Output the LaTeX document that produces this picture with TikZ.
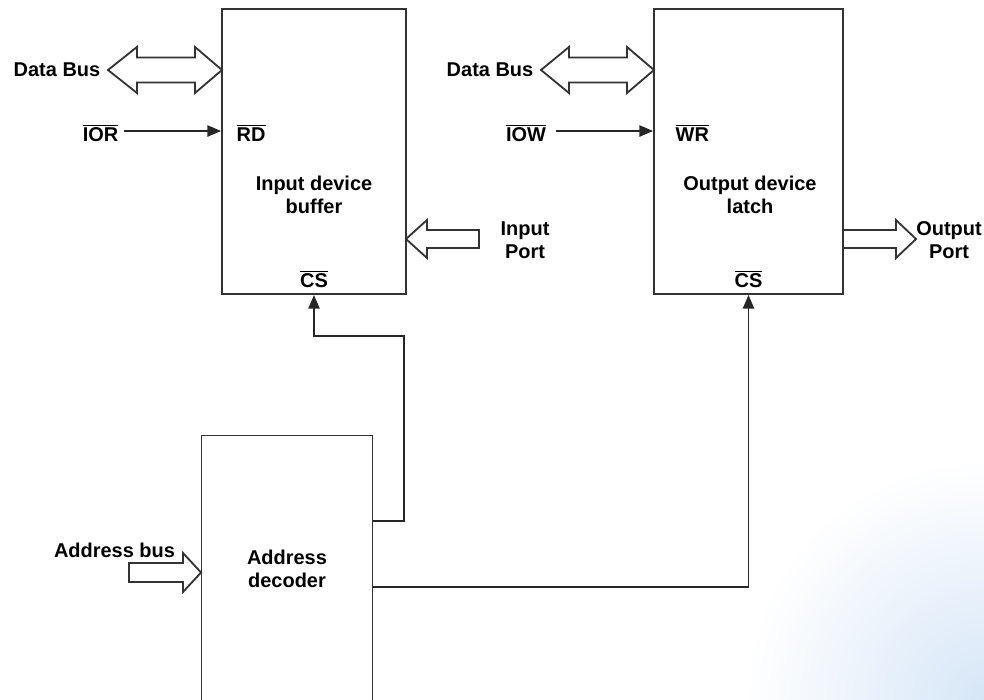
\documentclass[tikz,border=0pt]{standalone}
\usepackage{fontspec}
\setmainfont{Liberation Sans}
\usetikzlibrary{positioning,arrows.meta}

\newcommand{\notsig}[1]{$\overline{\mbox{#1}}$}

\begin{document}
\begin{tikzpicture}[x=0.025cm, y=-0.025cm,
    unit/.style={draw=black!80, line width=1.3pt, minimum width=4.6cm, minimum height=7.125cm},
    bus/.style={draw=black!80, line width=1.3pt, fill=white, line join=miter},
    sig/.style={draw=black!85, line width=1.2pt, -{Triangle[length=3.4mm,width=2.8mm]}},
    wire/.style={draw=black!85, line width=1.2pt},
    txt/.style={font=\fontsize{14.2}{16.3}\selectfont\bfseries, align=center, inner sep=1pt}
]

\clip (0,0) rectangle (984,699);
\shade[inner color={rgb,255:red,214;green,230;blue,247}, outer color=white] (984,699) circle (240);

% Blocks
\node[unit] (inbuf) at (314,151.5) {};
\node[unit, minimum width=4.725cm] (outlatch) at (748.5,151.5) {};
\node[unit, minimum width=4.275cm] (decoder) at (287,578) {};

\node[txt] (inbuftxt) at (314,195) {Input device\\buffer};
\node[txt] (outlatchtxt) at (750,195) {Output device\\latch};
\node[txt] (dectxt) at (287,569) {Address\\decoder};

% Data buses
\draw[bus] (108,70) -- (137,47) -- (137,57.5) -- (195,57.5) -- (195,47) -- (222,70)
    -- (195,93) -- (195,82.5) -- (137,82.5) -- (137,93) -- cycle;
\node[txt] (dbin) at (57,70) {Data Bus};

\draw[bus] (541,70) -- (569,47) -- (569,57.5) -- (627,57.5) -- (627,47) -- (654,70)
    -- (627,93) -- (627,82.5) -- (569,82.5) -- (569,93) -- cycle;
\node[txt] (dbout) at (490,70) {Data Bus};

% Read / write strobes
\node[txt, anchor=base] (ior) at (100.5,141) {\notsig{IOR}};
\node[txt, anchor=base west] (rd) at (235,141) {\notsig{RD}};
\draw[sig, shorten <=3pt] (ior.east |- 0,131) -- (inbuf.west |- 0,131);

\node[txt, anchor=base] (iow) at (526,141) {\notsig{IOW}};
\node[txt, anchor=base west] (wr) at (674,141) {\notsig{WR}};
\draw[sig, shorten <=6pt] (iow.east |- 0,131) -- (outlatch.west |- 0,131);

% Ports
\draw[bus] (406,239) -- (427,220) -- (427,230) -- (479,230) -- (479,248) -- (427,248)
    -- (427,258) -- cycle;
\node[txt] (inport) at (525,240) {Input\\Port};

\draw[bus] (916,239) -- (896,220) -- (896,230) -- (843,230) -- (843,248) -- (896,248)
    -- (896,258) -- cycle;
\node[txt] (outport) at (949,240) {Output\\Port};

% Chip selects
\node[txt, above=4pt of inbuf.south] (cs1) {\notsig{CS}};
\node[txt, above=4pt of outlatch.south] (cs2) {\notsig{CS}};

\coordinate (sel1) at (decoder.east |- 0,521);
\coordinate (sel2) at (decoder.east |- 0,587);
\draw[sig] (sel1) -| (404,336) -| (inbuf.south);
\draw[sig] (sel2) -| (outlatch.south);

% Address bus
\draw[bus] (201,572.5) -- (183,553) -- (183,563) -- (129,563) -- (129,582) -- (183,582)
    -- (183,592) -- cycle;
\node[txt, anchor=base] (addr) at (114.5,557) {Address bus};

\end{tikzpicture}
\end{document}
